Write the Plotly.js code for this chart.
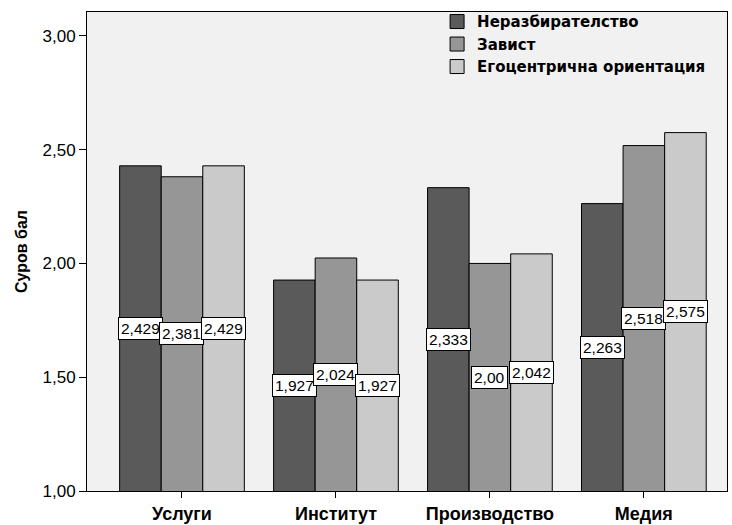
<!DOCTYPE html>
<html>
<head>
<meta charset="utf-8">
<script src="https://cdn.plot.ly/plotly-3.0.1.min.js"></script>
<style>html,body{margin:0;padding:0;background:#fff;}#chart{width:732px;height:525px;}</style>
</head>
<body>
<div id="chart"></div>
<script>
const categories = ["Услуги", "Институт", "Производство", "Медия"];
const seriesNames = ["Неразбирателство", "Завист", "Егоцентрична ориентация"];
const nerazbiratelstvo = [2.429, 1.927, 2.333, 2.263];
const zavist = [2.381, 2.024, 2.00, 2.518];
const egocentrichna = [2.429, 1.927, 2.042, 2.575];
const valueLabels = [
  ["2,429", "1,927", "2,333", "2,263"],
  ["2,381", "2,024", "2,00", "2,518"],
  ["2,429", "1,927", "2,042", "2,575"]
];
const yTicks = [1.0, 1.5, 2.0, 2.5, 3.0];

const colors = ["#5a5a5a", "#969696", "#cacaca"];
const series = [nerazbiratelstvo, zavist, egocentrichna];
const bargap = 0.19;
const barW = (1 - bargap) / 3;

const traces = series.map((vals, j) => ({
  type: "bar",
  name: seriesNames[j],
  x: categories.map((c, i) => i),
  y: vals,
  showlegend: false,
  marker: {color: colors[j], line: {color: "#000", width: 1}},
  hoverinfo: "none"
}));
// legend-only entries with larger square swatches
seriesNames.forEach((n, j) => {
  traces.push({
    type: "scatter", mode: "markers", name: n,
    x: [null], y: [null],
    marker: {symbol: "square", size: 14, color: colors[j], line: {color: "#000", width: 1}},
    hoverinfo: "none"
  });
});

const annotations = [];
series.forEach((vals, j) => {
  vals.forEach((v, i) => {
    annotations.push({
      x: i + (j - 1) * barW,
      y: (1 + v) / 2,
      xref: "x", yref: "y",
      text: valueLabels[j][i],
      showarrow: false,
      bgcolor: "#ffffff",
      bordercolor: "#000000",
      borderwidth: 1,
      borderpad: 2,
      font: {family: "Liberation Sans, Arial, sans-serif", size: 15.5, color: "#000"}
    });
  });
});

const layout = {
  width: 732, height: 525,
  margin: {l: 87, r: 5, t: 10, b: 34},
  paper_bgcolor: "#ffffff",
  plot_bgcolor: "#f0f1f0",
  barmode: "group",
  bargap: bargap,
  bargroupgap: 0,
  separators: ",.",
  showlegend: true,
  legend: {
    x: 0.547, xanchor: "left", y: 1.014, yanchor: "top",
    bgcolor: "rgba(0,0,0,0)",
    itemwidth: 30,
    font: {family: "DejaVu Sans, sans-serif", size: 15, color: "#000", weight: "bold"},
    tracegroupgap: 0
  },
  xaxis: {
    range: [-0.617, 3.54],
    tickvals: categories.map((c, i) => i),
    ticktext: categories,
    ticks: "outside", ticklen: 6, tickcolor: "#000", tickwidth: 1,
    showline: true, linecolor: "#000", linewidth: 1, mirror: true,
    showgrid: false, zeroline: false,
    tickfont: {family: "Liberation Sans, Arial, sans-serif", size: 18, color: "#000", weight: "bold"}
  },
  yaxis: {
    range: [1, 3.105],
    tickvals: yTicks,
    tickformat: ".2f",
    ticks: "outside", ticklen: 7, tickcolor: "#000", tickwidth: 1,
    showline: true, linecolor: "#000", linewidth: 1, mirror: true,
    showgrid: false, zeroline: false,
    tickfont: {family: "Liberation Sans, Arial, sans-serif", size: 17, color: "#000"},
    title: {text: "Суров бал", standoff: 10, font: {family: "Liberation Sans, Arial, sans-serif", size: 16, color: "#000", weight: "bold"}}
  },
  annotations: annotations
};

Plotly.newPlot("chart", traces, layout, {displayModeBar: false, staticPlot: true});
</script>
</body>
</html>
